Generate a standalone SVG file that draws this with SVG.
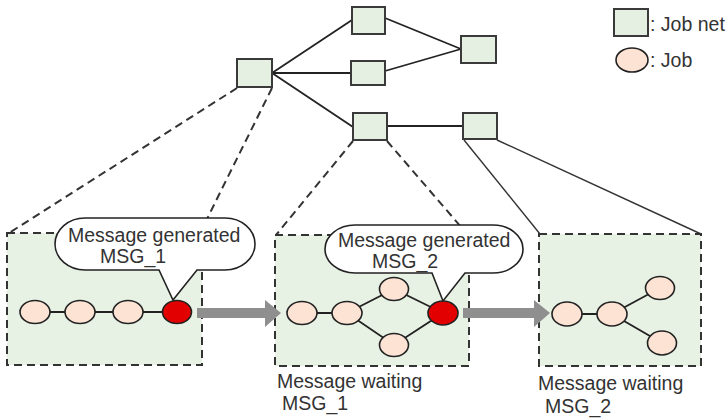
<svg xmlns="http://www.w3.org/2000/svg" width="728" height="419" viewBox="0 0 728 419">
<defs>
<style>
.jn{fill:#e6f0e2;stroke:#3a3a3a;stroke-width:2}
.panel{fill:#e8f2e4;stroke:#333;stroke-width:2;stroke-dasharray:8 5}
.job{fill:#fde3d4;stroke:#222;stroke-width:1.6}
.red{fill:#e30000;stroke:#222;stroke-width:1.6}
.edge{stroke:#222;stroke-width:1.8;fill:none}
.dash{stroke:#333;stroke-width:2;stroke-dasharray:8 5;fill:none}
.thin{stroke:#333;stroke-width:1.4;fill:none}
.call{fill:#fff;stroke:#222;stroke-width:1.6}
.arrow{fill:#8f8f8f}
text{font-family:"Liberation Sans",Arial,sans-serif;font-size:19.5px;fill:#333}
</style>
</defs>
<rect width="728" height="419" fill="#fff"/>

<g id="panel1"><rect class="panel" x="7" y="233" width="195" height="132"/></g>
<g id="panel2"><rect class="panel" x="275" y="235" width="194" height="131"/></g>
<g id="panel3"><rect class="panel" x="539" y="234" width="162" height="132"/></g>

<g id="connectors">
<line class="edge" x1="272" y1="73" x2="352" y2="20"/>
<line class="edge" x1="272" y1="73" x2="351" y2="73"/>
<line class="edge" x1="272" y1="73" x2="353" y2="127"/>
<line class="edge" x1="385" y1="18" x2="461" y2="49"/>
<line class="edge" x1="385" y1="71" x2="461" y2="49"/>
<line class="edge" x1="387" y1="126" x2="463" y2="126"/>
<line class="dash" x1="237" y1="88" x2="9" y2="233"/>
<line class="dash" x1="272" y1="88" x2="200" y2="233"/>
<line class="dash" x1="353" y1="141" x2="276" y2="235"/>
<line class="dash" x1="387" y1="141" x2="468" y2="235"/>
<line class="thin" x1="464" y1="140" x2="540" y2="234"/>
<line class="thin" x1="497" y1="140" x2="701" y2="234"/>
<line class="edge" x1="35" y1="312" x2="177" y2="312"/>
<line class="edge" x1="302" y1="313" x2="347" y2="313"/>
<polyline class="edge" points="347,313 394,289 443,313 394,345 347,313"/>
<line class="edge" x1="567" y1="314" x2="612" y2="314"/>
<polyline class="edge" points="660,288 612,314 662,343"/>
<polygon class="arrow" points="197,308 265,308 265,300 281,313 265,327 265,318 197,318"/>
<polygon class="arrow" points="463,308 534,308 534,300 550,313 534,327 534,318 463,318"/>
</g>

<g id="jn-a"><rect class="jn" x="237" y="59" width="35" height="28"/></g>
<g id="jn-b"><rect class="jn" x="352" y="7" width="33" height="27"/></g>
<g id="jn-c"><rect class="jn" x="351" y="61" width="34" height="24"/></g>
<g id="jn-d"><rect class="jn" x="461" y="36" width="35" height="27"/></g>
<g id="jn-e"><rect class="jn" x="353" y="113" width="34" height="27"/></g>
<g id="jn-f"><rect class="jn" x="463" y="113" width="34" height="26"/></g>

<g id="legend">
<rect class="jn" x="614" y="9" width="34" height="27"/>
<text x="650" y="31">: Job net</text>
<ellipse class="job" cx="632" cy="60" rx="16" ry="12"/>
<text x="650" y="67">: Job</text>
</g>

<g id="jobs1">
<ellipse class="job" cx="35" cy="312" rx="15" ry="11.5"/>
<ellipse class="job" cx="80" cy="312" rx="15" ry="11.5"/>
<ellipse class="job" cx="128" cy="312" rx="15" ry="11.5"/>
<ellipse class="red" cx="177" cy="312" rx="14.5" ry="11.5"/>
</g>
<g id="jobs2">
<ellipse class="job" cx="302" cy="313" rx="15" ry="11.5"/>
<ellipse class="job" cx="347" cy="313" rx="15" ry="11.5"/>
<ellipse class="job" cx="394" cy="289" rx="14.5" ry="11.5"/>
<ellipse class="job" cx="394" cy="345" rx="14.5" ry="11.5"/>
<ellipse class="red" cx="443" cy="313" rx="15" ry="12"/>
</g>
<g id="jobs3">
<ellipse class="job" cx="567" cy="314" rx="15" ry="12"/>
<ellipse class="job" cx="612" cy="314" rx="15" ry="12"/>
<ellipse class="job" cx="660" cy="288" rx="14.5" ry="11.5"/>
<ellipse class="job" cx="662" cy="343" rx="14.5" ry="12"/>
</g>

<g id="callout1">
<path class="call" d="M85,218 H225 A30,26 0 0 1 225,270 H197 L173,300 L159,270 H85 A30,26 0 0 1 85,218 Z"/>
<text x="68" y="242">Message generated</text>
<text x="100" y="263">MSG_1</text>
</g>
<g id="callout2">
<path class="call" d="M355,225 H493 A30,24 0 0 1 493,273 H465 L443,301 L432,273 H355 A30,24 0 0 1 355,225 Z"/>
<text x="338" y="247">Message generated</text>
<text x="372" y="268">MSG_2</text>
</g>

<g id="label2">
<text x="277" y="388">Message waiting</text>
<text x="282" y="410">MSG_1</text>
</g>
<g id="label3">
<text x="538" y="390">Message waiting</text>
<text x="545" y="413">MSG_2</text>
</g>
</svg>
